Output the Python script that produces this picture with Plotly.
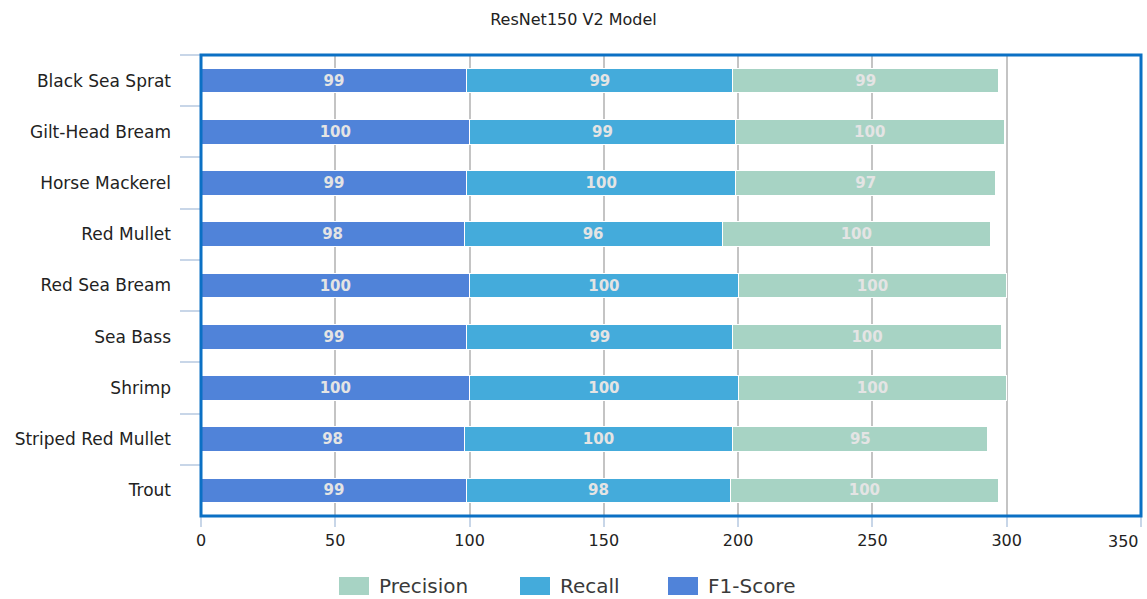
import plotly.graph_objects as go

# Per-class scores for the ResNet150 V2 model
classes = ["Black Sea Sprat", "Gilt-Head Bream", "Horse Mackerel", "Red Mullet",
           "Red Sea Bream", "Sea Bass", "Shrimp", "Striped Red Mullet", "Trout"]
f1_score = [99, 100, 99, 98, 100, 99, 100, 98, 99]
recall = [99, 99, 100, 96, 100, 99, 100, 100, 98]
precision = [99, 100, 97, 100, 100, 100, 100, 95, 100]

x_ticks = [0, 50, 100, 150, 200, 250, 300, 350]

series = [
    ("F1-Score", f1_score, "#5083d9"),
    ("Recall", recall, "#44abdb"),
    ("Precision", precision, "#a7d3c4"),
]

fig = go.Figure()
for name, vals, color in series:
    fig.add_trace(go.Bar(
        y=classes, x=vals, name=name, orientation="h",
        marker=dict(color=color, line=dict(color="white", width=1)),
        text=[str(v) for v in vals], textposition="inside",
        insidetextanchor="middle", textangle=0,
        textfont=dict(family="DejaVu Sans", size=15, color="#e4e4e4", weight="bold"),
        showlegend=False,
    ))

# last tick label is placed separately so it stays inside the page
tick_text = [str(v) for v in x_ticks[:-1]] + [""]

fig.update_layout(
    width=1147, height=599,
    barmode="stack", bargap=0.52,
    paper_bgcolor="white", plot_bgcolor="white",
    margin=dict(l=201, r=6, t=55, b=83),
    title=dict(text="ResNet150 V2 Model", x=0.5, xanchor="center", y=0.968, yanchor="middle",
               font=dict(family="DejaVu Sans", size=16, color="#222222")),
    font=dict(family="Liberation Sans, Arial", color="#222222"),
    xaxis=dict(range=[0, 350], tickvals=x_ticks, ticktext=tick_text,
               showgrid=True, gridcolor="#c4c4c4", gridwidth=2,
               zeroline=False, ticks="outside", ticklen=10, tickwidth=2, tickcolor="#c8d6e8",
               tickfont=dict(family="DejaVu Sans", size=16, color="#222222")),
    yaxis=dict(autorange="reversed", showgrid=False, ticks="outside", tickson="boundaries",
               ticklen=20, tickcolor="#c8d6e8", tickwidth=2, ticklabelstandoff=29,
               tickfont=dict(family="DejaVu Sans", size=17, color="#222222")),
)

fig.add_annotation(xref="x", yref="paper", x=x_ticks[-1], y=0, yshift=-14,
                   xanchor="right", yanchor="top", showarrow=False, text=str(x_ticks[-1]),
                   font=dict(family="DejaVu Sans", size=16, color="#222222"))

# Plot-area frame
fig.add_shape(type="rect", xref="paper", yref="paper", x0=0, x1=1, y0=0, y1=1,
              line=dict(color="#0b70c4", width=3), fillcolor="rgba(0,0,0,0)", layer="above")

# Legend drawn as boxes with labels along the bottom
legend_items = [("Precision", "#a7d3c4", 339), ("Recall", "#44abdb", 520), ("F1-Score", "#5083d9", 668)]
for name, color, px0 in legend_items:
    fig.add_shape(type="rect", xref="paper", yref="paper",
                  x0=(px0 - 201) / 940, x1=(px0 + 30 - 201) / 940,
                  y0=(516 - 595) / 461, y1=(516 - 577) / 461,
                  line=dict(width=0), fillcolor=color)
    fig.add_annotation(xref="paper", yref="paper", x=(px0 + 38 - 201) / 940, y=(516 - 586) / 461,
                       xanchor="left", yanchor="middle", showarrow=False, text=name,
                       font=dict(family="DejaVu Sans", size=20, color="#3a3a3a"))

fig.write_html("out.html")
